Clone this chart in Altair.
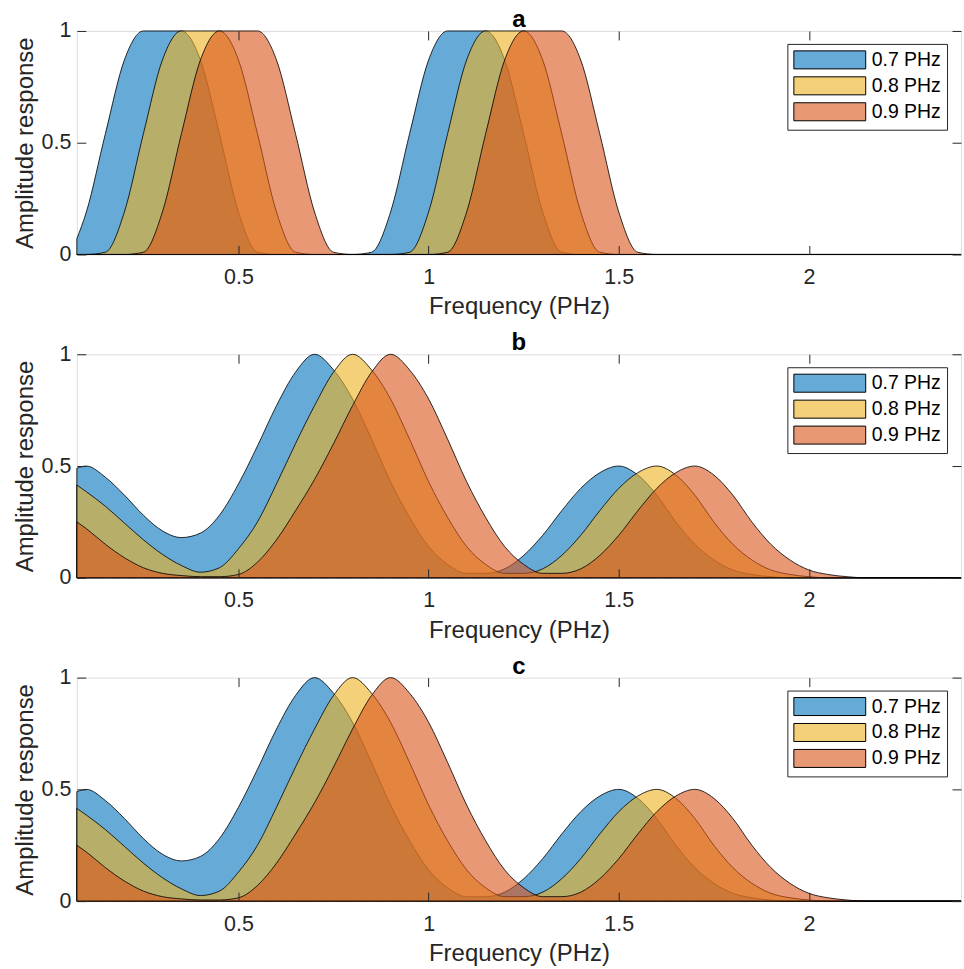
import altair as alt
import pandas as pd

# Frequency sampling grid (PHz)
FREQ = [0.075, 0.1, 0.15, 0.2, 0.25, 0.3, 0.35, 0.4, 0.45, 0.5,
        0.55, 0.6, 0.65, 0.7, 0.75, 0.8, 0.85, 0.9, 0.95, 1.0,
        1.05, 1.1, 1.15, 1.2, 1.25, 1.3, 1.35, 1.4, 1.45, 1.5,
        1.55, 1.6, 1.65, 1.7, 1.75, 1.8, 1.85, 1.9, 1.95, 2.0,
        2.05, 2.1, 2.15, 2.2, 2.25, 2.3, 2.35, 2.4]

SERIES = ["0.7 PHz", "0.8 PHz", "0.9 PHz"]
COLORS = ["#0072BD", "#EDB120", "#D95319"]
# legend swatch colours: the same face colours seen at 60 % over white
SWATCH = ["#66AAD7", "#F4D079", "#E89875"]

# Panel a
A_07 = [0.07, 0.19, 0.54, 0.87, 1, 1, 1, 0.87, 0.54, 0.19,
        0.01, 0, 0, 0, 0, 0, 0.01, 0.19, 0.54, 0.87,
        1, 1, 1, 0.87, 0.54, 0.19, 0.01, 0, 0, 0,
        0, 0, 0, 0, 0, 0, 0, 0, 0, 0,
        0, 0, 0, 0, 0, 0, 0, 0]
A_08 = [0, 0, 0.01, 0.19, 0.54, 0.87, 1, 1, 1, 0.87,
        0.54, 0.19, 0.01, 0, 0, 0, 0, 0, 0.01, 0.19,
        0.54, 0.87, 1, 1, 1, 0.87, 0.54, 0.19, 0.01, 0,
        0, 0, 0, 0, 0, 0, 0, 0, 0, 0,
        0, 0, 0, 0, 0, 0, 0, 0]
A_09 = [0, 0, 0, 0, 0.01, 0.19, 0.54, 0.87, 1, 1,
        1, 0.87, 0.54, 0.19, 0.01, 0, 0, 0, 0, 0,
        0.01, 0.19, 0.54, 0.87, 1, 1, 1, 0.87, 0.54, 0.19,
        0.01, 0, 0, 0, 0, 0, 0, 0, 0, 0,
        0, 0, 0, 0, 0, 0, 0, 0]

# Panel b
B_07 = [0.49, 0.50, 0.45, 0.37, 0.28, 0.21, 0.18, 0.20, 0.28, 0.42,
        0.59, 0.77, 0.92, 1.00, 0.93, 0.80, 0.62, 0.43, 0.27, 0.14,
        0.06, 0.02, 0.02, 0.04, 0.10, 0.19, 0.30, 0.40, 0.47, 0.50,
        0.46, 0.37, 0.25, 0.15, 0.08, 0.035, 0.015, 0.005, 0, 0,
        0, 0, 0, 0, 0, 0, 0, 0]
B_08 = [0.415, 0.385, 0.32, 0.245, 0.17, 0.105, 0.055, 0.025, 0.045, 0.13,
        0.25, 0.42, 0.60, 0.77, 0.92, 1.00, 0.93, 0.80, 0.62, 0.43,
        0.27, 0.14, 0.06, 0.02, 0.02, 0.04, 0.10, 0.19, 0.30, 0.40,
        0.47, 0.50, 0.46, 0.37, 0.25, 0.15, 0.08, 0.035, 0.015, 0.005,
        0, 0, 0, 0, 0, 0, 0, 0]
B_09 = [0.25, 0.22, 0.15, 0.09, 0.045, 0.02, 0.01, 0.005, 0.005, 0.015,
        0.07, 0.17, 0.30, 0.44, 0.60, 0.77, 0.92, 1.00, 0.93, 0.80,
        0.62, 0.43, 0.27, 0.14, 0.06, 0.02, 0.02, 0.04, 0.10, 0.19,
        0.30, 0.40, 0.47, 0.50, 0.46, 0.37, 0.25, 0.15, 0.08, 0.035,
        0.015, 0.005, 0, 0, 0, 0, 0, 0]

# Panel c (same responses as panel b)
C_07 = list(B_07)
C_08 = list(B_08)
C_09 = list(B_09)

X_TICKS = [0.5, 1, 1.5, 2]
Y_TICKS = [0, 0.5, 1]

FONT = "Liberation Sans"
INK = "#262626"
W, H = 886, 224
TICK = 9


def frame(values):
    rows = []
    for s, vals in zip(SERIES, values):
        for f, v in zip(FREQ, vals):
            rows.append({"f": f, "amp": v, "series": s, "key": s})
    return pd.DataFrame(rows)


x_enc = alt.X(
    "f:Q",
    scale=alt.Scale(domain=[0.075, 2.4], nice=False, zero=False),
    axis=alt.Axis(
        values=X_TICKS, format="~g", title="Frequency (PHz)",
        ticks=False, domain=False, grid=True, gridColor=INK, gridOpacity=1,
        gridWidth=1, gridDash=[TICK, H - 2 * TICK, TICK, 0],
        labelPadding=12, titlePadding=7, labelFontSize=21.5, titleFontSize=24,
        labelFont=FONT, titleFont=FONT, labelColor=INK, titleColor=INK,
        titleFontWeight="normal", labelFlush=False, zindex=1,
    ),
)
y_enc = alt.Y(
    "amp:Q",
    stack=None,
    scale=alt.Scale(domain=[0, 1], nice=False),
    axis=alt.Axis(
        values=Y_TICKS, format="~g", title="Amplitude response",
        ticks=False, domain=False, grid=True, gridColor=INK, gridOpacity=1,
        gridWidth=1, gridDash=[TICK, W - 2 * TICK, TICK, 0],
        labelPadding=6, titlePadding=4, labelFontSize=21.5, titleFontSize=24,
        labelFont=FONT, titleFont=FONT, labelColor=INK, titleColor=INK,
        titleFontWeight="normal", zindex=1,
    ),
)
fill_enc = alt.Fill(
    "series:N",
    scale=alt.Scale(domain=SERIES, range=COLORS),
    legend=None,
)
legend_enc = alt.Fill(
    "key:N",
    scale=alt.Scale(domain=SERIES, range=SWATCH),
    legend=alt.Legend(
        title=None, orient="none", legendX=712, legendY=13,
        padding=6, strokeColor=INK, fillColor="white",
        symbolType="M-3.79,-0.95L3.79,-0.95L3.79,0.95L-3.79,0.95Z",
        symbolSize=361, symbolOffset=26.5,
        symbolStrokeColor="black", symbolStrokeWidth=1,
        labelFont=FONT, labelFontSize=19.5, labelColor="black",
        labelOffset=32, rowPadding=2,
    ),
)


def panel(title, values):
    df = frame(values)
    layers = []
    for s in SERIES:
        layers.append(
            alt.Chart(df)
            .transform_filter(alt.datum.series == s)
            .mark_area(interpolate="monotone", fillOpacity=0.6, stroke="black",
                       strokeWidth=0.9, strokeOpacity=0.9)
            .encode(x=x_enc, y=y_enc, fill=fill_enc)
        )
    # empty layer that only carries the legend
    layers.append(
        alt.Chart(df)
        .transform_filter("datum.amp > 5")
        .mark_area()
        .encode(x=x_enc, y=y_enc, fill=legend_enc)
    )
    return alt.layer(*layers).resolve_scale(fill="independent").properties(
        width=W, height=H,
        title=alt.TitleParams(title, font=FONT, fontSize=24, fontWeight="bold",
                              color="black", offset=-12, anchor="middle"),
    )


chart = (
    alt.vconcat(
        panel("a", [A_07, A_08, A_09]),
        panel("b", [B_07, B_08, B_09]),
        panel("c", [C_07, C_08, C_09]),
        spacing=100,
        bounds="flush",
    )
    .resolve_scale(fill="independent")
    .resolve_legend(fill="independent")
    .properties(padding={"left": 12, "top": 6, "right": 0, "bottom": 0})
    .configure_view(stroke=INK, strokeWidth=1)
    .configure(font=FONT)
)

chart.save("out.html", embed_options={"renderer": "svg", "actions": False})
